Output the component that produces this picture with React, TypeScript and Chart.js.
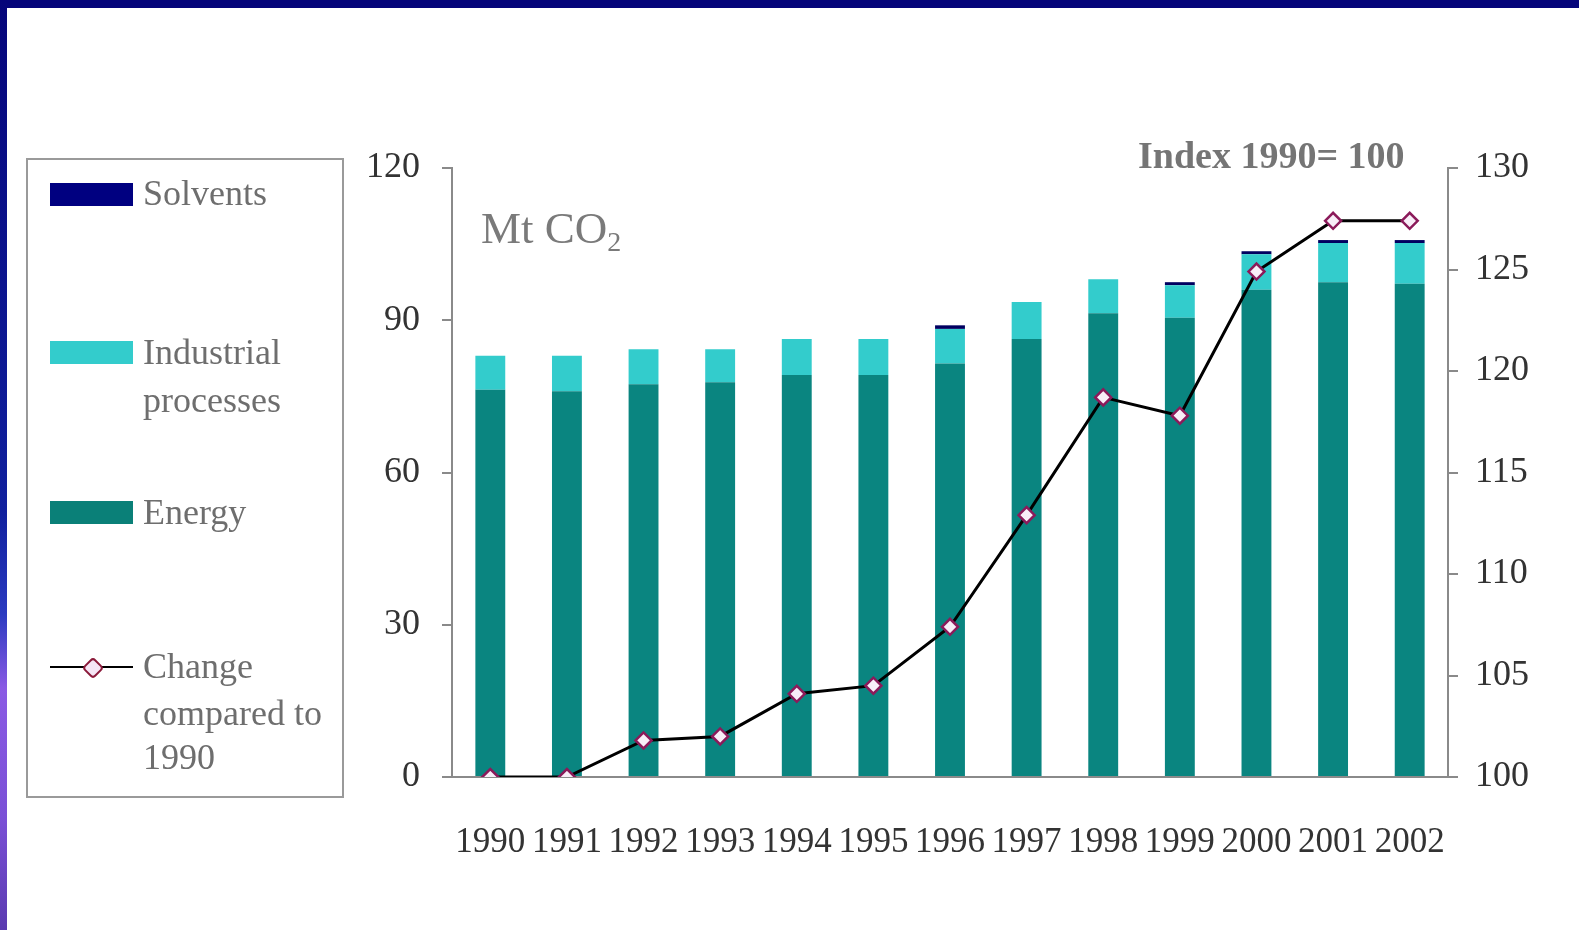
import React, { useEffect, useRef } from "react";
import { Chart, registerables } from "chart.js";

Chart.register(...registerables);

const years = ["1990", "1991", "1992", "1993", "1994", "1995", "1996", "1997", "1998", "1999", "2000", "2001", "2002"];
const energy = [76.3, 76.0, 77.4, 77.8, 79.2, 79.2, 81.5, 86.3, 91.4, 90.5, 96.0, 97.5, 97.2];
const industrial = [6.7, 7.0, 6.9, 6.5, 7.1, 7.1, 6.8, 7.3, 6.7, 6.4, 7.0, 7.7, 8.0];
const solvents = [0, 0, 0, 0, 0, 0, 0.7, 0, 0, 0.6, 0.6, 0.6, 0.6];
const changeIndex = [100, 100, 101.8, 102.0, 104.1, 104.5, 107.4, 112.9, 118.7, 117.8, 124.9, 127.4, 127.4];
const leftTicks = [0, 30, 60, 90, 120];
const rightTicks = [100, 105, 110, 115, 120, 125, 130];

const SERIF = "'Liberation Serif', 'Times New Roman', serif";
const AXIS_GREY = "#8a8a8a";
const TICK_TEXT = "#333333";
const LABEL_GREY = "#6e6e6e";

export default function App() {
  const ref = useRef<HTMLCanvasElement | null>(null);

  useEffect(() => {
    const canvas = ref.current;
    if (!canvas) return;
    const chart = new Chart(canvas, {
      type: "bar",
      data: {
        labels: years,
        datasets: [
          {
            type: "line",
            label: "Change compared to 1990",
            data: changeIndex,
            yAxisID: "y1",
            borderColor: "#000000",
            borderWidth: 3,
            pointStyle: "rectRot",
            pointRadius: 8,
            pointBackgroundColor: "#f8eef8",
            pointBorderColor: "#8b1a5a",
            pointBorderWidth: 2.5,
            tension: 0,
            order: 0,
          } as any,
          {
            label: "Energy",
            data: energy,
            backgroundColor: "#0a8580",
            yAxisID: "y",
            stack: "s",
            order: 1,
            categoryPercentage: 1,
            barPercentage: 0.39,
          },
          {
            label: "Industrial processes",
            data: industrial,
            backgroundColor: "#33cccc",
            yAxisID: "y",
            stack: "s",
            order: 1,
            categoryPercentage: 1,
            barPercentage: 0.39,
          },
          {
            label: "Solvents",
            data: solvents,
            backgroundColor: "#000060",
            yAxisID: "y",
            stack: "s",
            order: 1,
            categoryPercentage: 1,
            barPercentage: 0.39,
          },
        ],
      },
      options: {
        responsive: false,
        animation: false,
        layout: { padding: { left: 332, right: 11, top: 168, bottom: 53 } },
        plugins: { legend: { display: false }, tooltip: { enabled: false } },
        scales: {
          x: {
            stacked: true,
            grid: { display: false, drawTicks: false },
            border: { display: true, color: AXIS_GREY, width: 2 },
            ticks: {
              autoSkip: false,
              maxRotation: 0,
              minRotation: 0,
              padding: 45,
              color: TICK_TEXT,
              font: { family: SERIF, size: 35 },
            },
            afterFit: (s: any) => {
              s.height = 100;
            },
          },
          y: {
            stacked: true,
            position: "left",
            min: 0,
            max: 120,
            afterBuildTicks: (s: any) => {
              s.ticks = leftTicks.map((v) => ({ value: v }));
            },
            grid: { display: true, drawOnChartArea: false, drawTicks: true, tickLength: 10, color: AXIS_GREY, lineWidth: 2 },
            border: { display: true, color: AXIS_GREY, width: 2 },
            ticks: { padding: 22, color: TICK_TEXT, font: { family: SERIF, size: 36 } },
            afterFit: (s: any) => {
              s.width = 120;
            },
          },
          y1: {
            position: "right",
            min: 100,
            max: 130,
            afterBuildTicks: (s: any) => {
              s.ticks = rightTicks.map((v) => ({ value: v }));
            },
            grid: { display: true, drawOnChartArea: false, drawTicks: true, tickLength: 10, color: AXIS_GREY, lineWidth: 2 },
            border: { display: true, color: AXIS_GREY, width: 2 },
            ticks: { padding: 17, color: TICK_TEXT, font: { family: SERIF, size: 36 } },
            afterFit: (s: any) => {
              s.width = 120;
            },
          },
        },
      },
    });
    return () => chart.destroy();
  }, []);

  const txt = (left: number, centerY: number, size: number, content: React.ReactNode, extra: React.CSSProperties = {}) => (
    <div
      style={{
        position: "absolute",
        left,
        top: centerY - size * 0.5,
        fontFamily: SERIF,
        fontSize: size,
        lineHeight: 1,
        color: LABEL_GREY,
        whiteSpace: "nowrap",
        ...extra,
      }}
    >
      {content}
    </div>
  );

  const swatch = (top: number, color: string) => (
    <div style={{ position: "absolute", left: 50, top, width: 83, height: 23, background: color }} />
  );

  return (
    <div style={{ position: "fixed", left: 0, top: 0, width: 1579, height: 930, background: "#ffffff", overflow: "hidden" }}>
      <div style={{ position: "absolute", left: 0, top: 0, width: 1579, height: 8, background: "#05057a" }} />
      <div
        style={{
          position: "absolute",
          left: 0,
          top: 0,
          width: 7,
          height: 930,
          background: "linear-gradient(to bottom, #05057a 0%, #10209e 55%, #2a3ac0 66%, #8a5ae4 74%, #7a50d6 88%, #5a3ab0 100%)",
        }}
      />
      <canvas ref={ref} width={1579} height={930} style={{ position: "absolute", left: 0, top: 0, width: 1579, height: 930 }} />

      {txt(481, 228, 45, <span>Mt CO<sub style={{ fontSize: 28, verticalAlign: "-0.3em" }}>2</sub></span>, { color: "#7a7a7a" })}
      {txt(1138, 155, 38, "Index 1990= 100", { fontWeight: "bold", color: "#757575" })}

      <div style={{ position: "absolute", left: 26, top: 158, width: 314, height: 636, border: "2px solid #9a9a9a" }} />
      {swatch(183, "#000080")}
      {txt(143, 193, 36, "Solvents")}
      {swatch(341, "#33cccc")}
      {txt(143, 352, 36, "Industrial")}
      {txt(143, 400, 36, "processes")}
      {swatch(501, "#0a8078")}
      {txt(143, 512, 36, "Energy")}
      <div style={{ position: "absolute", left: 50, top: 666, width: 83, height: 2, background: "#000000" }} />
      <div
        style={{
          position: "absolute",
          left: 85,
          top: 660,
          width: 12,
          height: 12,
          background: "#f5e6f5",
          border: "2px solid #8b1a3a",
          borderRadius: 4,
          transform: "rotate(45deg)",
        }}
      />
      {txt(143, 666, 36, "Change")}
      {txt(143, 713, 36, "compared to")}
      {txt(143, 757, 36, "1990")}
    </div>
  );
}
